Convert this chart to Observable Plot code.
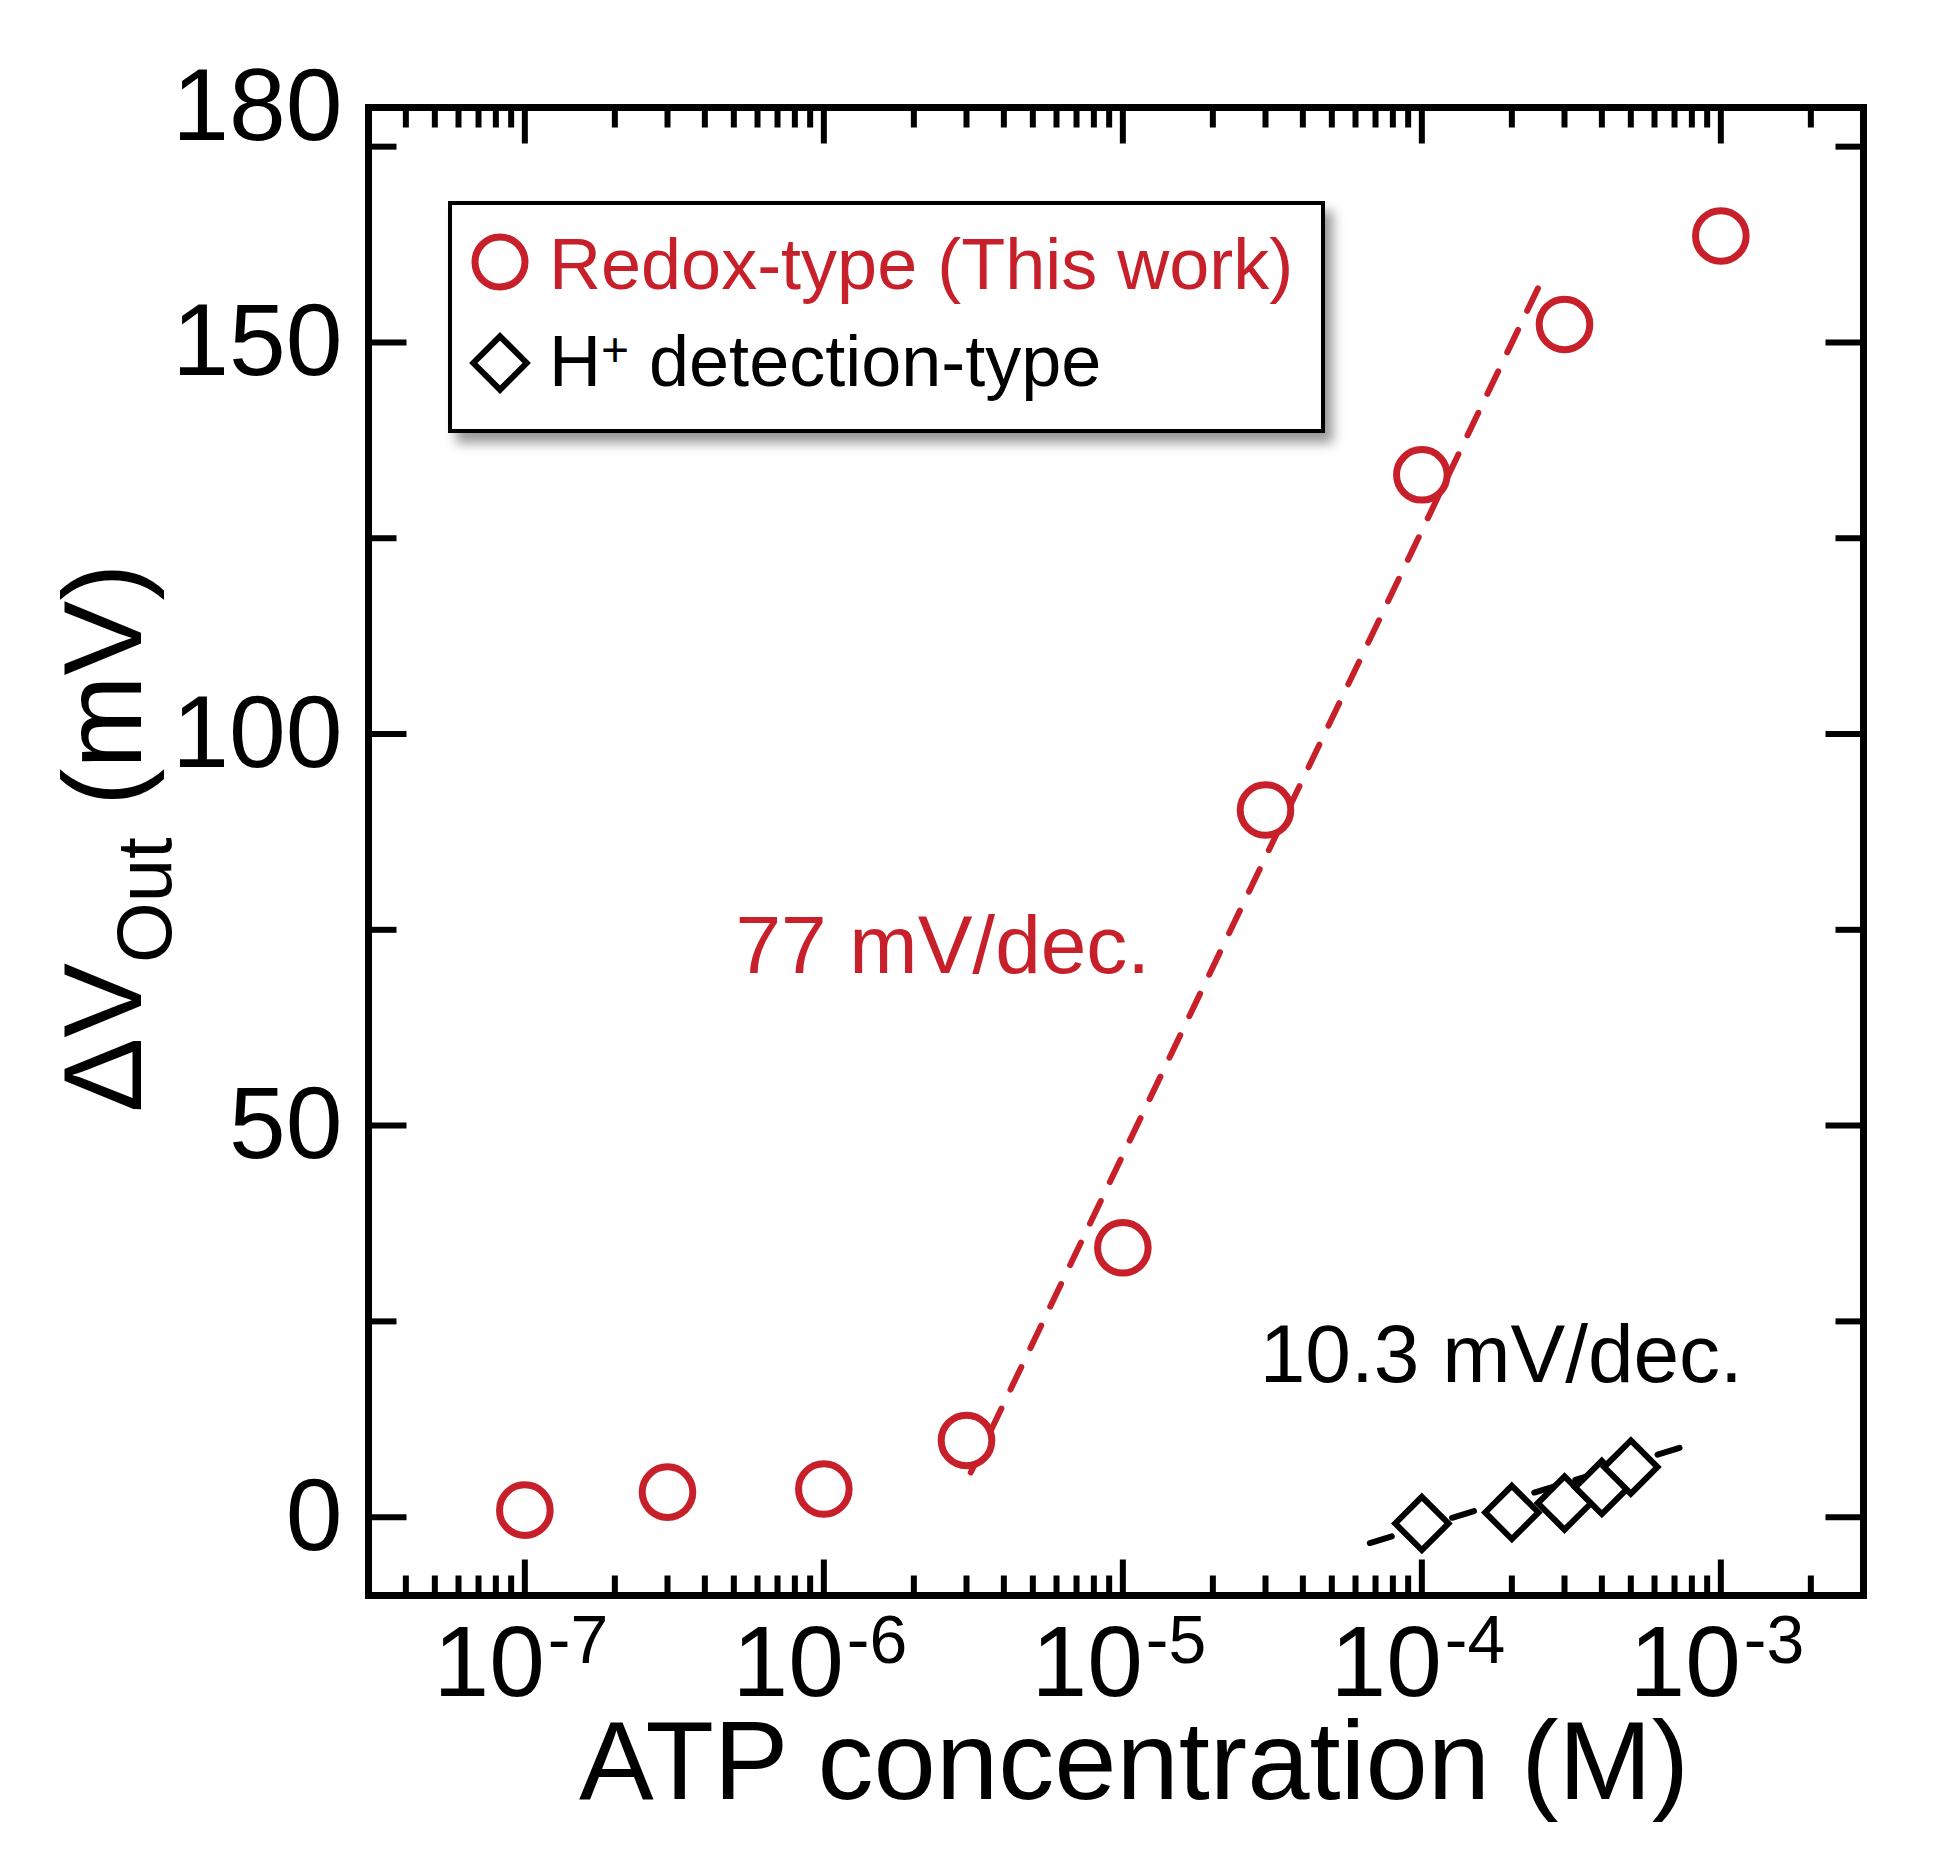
<!DOCTYPE html>
<html>
<head>
<meta charset="utf-8">
<script src="https://cdn.jsdelivr.net/npm/d3@7"></script>
<script src="https://cdn.jsdelivr.net/npm/@observablehq/plot@0.6"></script>
<style>
body { margin: 0; background: white; }
</style>
</head>
<body>
<div id="chart"></div>
<script>
// Redox-type sensor (this work): ATP concentration (M) vs output shift (mV)
let redox_conc = [1e-7, 3e-7, 1e-6, 3e-6, 1e-5, 3e-5, 1e-4, 3e-4, 1e-3];
let redox_dv = [0.9, 3.2, 3.6, 9.8, 34.4, 90.3, 133.1, 152.3, 163.6];

// H+ detection-type sensor
let hplus_conc = [1e-4, 2e-4, 3e-4, 4e-4, 5e-4];
let hplus_dv = [-0.8, 0.6, 1.8, 3.8, 6.4];

// fitted lines, end points
let redox_fit_conc = [3.1e-6, 2.56e-4];
let redox_fit_dv = [5.7, 158.5];
let hplus_fit_conc = [6.7e-5, 8.2e-4];
let hplus_fit_dv = [-3.3, 9.45];

// slope notes
let note_conc = [5.06e-7, 2.87e-5];
let note_dv = [69.5, 17.2];
let note_text = ["77 mV/dec.", "10.3 mV/dec."];

// axes
let x_major = [1e-7, 1e-6, 1e-5, 1e-4, 1e-3];
let x_exponents = ["-7", "-6", "-5", "-4", "-3"];
let y_major = [0, 50, 100, 150];
let y_minor = [25, 75, 125, 175];
let y_labels = [0, 50, 100, 150, 180];

const x_domain = [3e-8, 3e-3];
const red = "#c8202a";
const font = '"Liberation Sans", Arial, sans-serif';

// minor log ticks 2..9 in every decade, inside the domain
let x_minor = [];
for (let e = -8; e <= -3; e++) {
    for (let m = 2; m <= 9; m++) {
        let v = m * Math.pow(10, e);
        if (v > x_domain[0] * 1.01 && v < x_domain[1] * 0.99) x_minor.push(v);
    }
}

const redox = redox_conc.map((c, i) => ({c: c, v: redox_dv[i]}));
const hplus = hplus_conc.map((c, i) => ({c: c, v: hplus_dv[i]}));
const redox_fit = redox_fit_conc.map((c, i) => ({c: c, v: redox_fit_dv[i]}));
const hplus_fit = hplus_fit_conc.map((c, i) => ({c: c, v: hplus_fit_dv[i]}));

// inward tick: a plain stroke along the vector
const tickShape = {draw(context, l) { context.moveTo(0, 0); context.lineTo(0, -l); }};

function ticks(values, channel, side, rotate, length) {
    return Plot.vector(values, {
        [channel]: d => d, frameAnchor: side, rotate: rotate, length: length,
        anchor: "start", shape: tickShape, stroke: "black", strokeWidth: 6, strokeLinecap: "butt"
    });
}

let plot = Plot.plot({
    width: 1937,
    height: 1855,
    marginLeft: 368,
    marginRight: 74,
    marginTop: 107,
    marginBottom: 260,
    style: {fontFamily: font, background: "white", color: "black"},
    x: {type: "log", domain: x_domain, axis: null},
    y: {domain: [-10, 180], axis: null},
    marks: [
        // ticks on all four sides, pointing in
        ticks(x_major, "x", "bottom", 0, 36),
        ticks(x_minor, "x", "bottom", 0, 20),
        ticks(x_major, "x", "top", 180, 36),
        ticks(x_minor, "x", "top", 180, 20),
        ticks(y_major, "y", "left", 90, 38),
        ticks(y_minor, "y", "left", 90, 28),
        ticks(y_major, "y", "right", -90, 38),
        ticks(y_minor, "y", "right", -90, 28),
        Plot.frame({stroke: "black", strokeWidth: 7}),

        // tick labels
        Plot.text(y_labels, {y: d => d, text: d => String(d), frameAnchor: "left", textAnchor: "end",
            dx: -26, lineAnchor: "middle", fontSize: 102}),
        Plot.text(x_major, {x: d => d, text: () => "10", frameAnchor: "bottom", textAnchor: "end",
            dx: 20, dy: 100, lineAnchor: "bottom", fontSize: 100}),
        Plot.text(x_major, {x: d => d, text: (d, i) => x_exponents[i], frameAnchor: "bottom", textAnchor: "start",
            dx: 23, dy: 67, lineAnchor: "bottom", fontSize: 68}),
        Plot.text(["ATP concentration (M)"], {frameAnchor: "bottom", dx: 18, dy: 203, lineAnchor: "bottom", fontSize: 112}),

        // fits
        Plot.line(redox_fit, {x: "c", y: "v", stroke: red, strokeWidth: 6, strokeDasharray: "25,21"}),
        Plot.line(hplus_fit, {x: "c", y: "v", stroke: "black", strokeWidth: 6, strokeDasharray: "23,20"}),

        // data
        Plot.dot(redox, {x: "c", y: "v", r: 25.3, stroke: red, strokeWidth: 7, fill: "white"}),
        Plot.dot(hplus, {x: "c", y: "v", symbol: "diamond2", r: 24, stroke: "black", strokeWidth: 6, fill: "white"}),

        // slope notes
        Plot.text([0], {x: i => note_conc[i], y: i => note_dv[i], text: i => note_text[i],
            textAnchor: "start", lineAnchor: "bottom", fontSize: 82, fill: red}),
        Plot.text([1], {x: i => note_conc[i], y: i => note_dv[i], text: i => note_text[i],
            textAnchor: "start", lineAnchor: "bottom", fontSize: 82, fill: "black"})
    ]
});

document.querySelector("#chart").append(plot);

// legend box and rotated y title with subscript, drawn on top of the plot
const svg = d3.select(plot);
svg.append("defs").append("filter")
    .attr("id", "legend-shadow")
    .attr("x", "-10%").attr("y", "-10%").attr("width", "130%").attr("height", "140%")
    .append("feDropShadow")
    .attr("dx", 8).attr("dy", 10).attr("stdDeviation", 6)
    .attr("flood-color", "#000").attr("flood-opacity", 0.4);

const legend = svg.append("g").attr("font-family", font).attr("text-anchor", "start");
legend.append("rect")
    .attr("x", 450).attr("y", 203).attr("width", 873).attr("height", 228)
    .attr("fill", "white").attr("stroke", "black").attr("stroke-width", 4)
    .attr("filter", "url(#legend-shadow)");

legend.append("path")
    .attr("transform", "translate(500,262)")
    .attr("d", d3.symbol(d3.symbolCircle, Math.PI * 25 * 25)())
    .attr("fill", "none").attr("stroke", red).attr("stroke-width", 7);
legend.append("path")
    .attr("transform", "translate(500,363)")
    .attr("d", d3.symbol(d3.symbolDiamond2, Math.PI * 24 * 24)())
    .attr("fill", "none").attr("stroke", "black").attr("stroke-width", 6);

legend.append("text")
    .attr("x", 549).attr("y", 289).attr("font-size", 72).attr("fill", red)
    .text("Redox-type (This work)");
const t2 = legend.append("text")
    .attr("x", 549).attr("y", 386).attr("font-size", 72).attr("fill", "black")
    .style("white-space", "pre");
t2.append("tspan").text("H");
t2.append("tspan").attr("font-size", 48).attr("dy", -20).text("+");
t2.append("tspan").attr("dy", 20).text(" detection-type");

const ytitle = svg.append("text")
    .attr("transform", "translate(141,838) rotate(-90)")
    .attr("text-anchor", "middle")
    .attr("font-family", font).attr("font-size", 112).attr("fill", "black")
    .style("white-space", "pre");
ytitle.append("tspan").text("\u0394V");
ytitle.append("tspan").attr("font-size", 78).attr("dy", 30).text("Out");
ytitle.append("tspan").attr("dy", -30).text(" (mV)");
</script>
</body>
</html>
